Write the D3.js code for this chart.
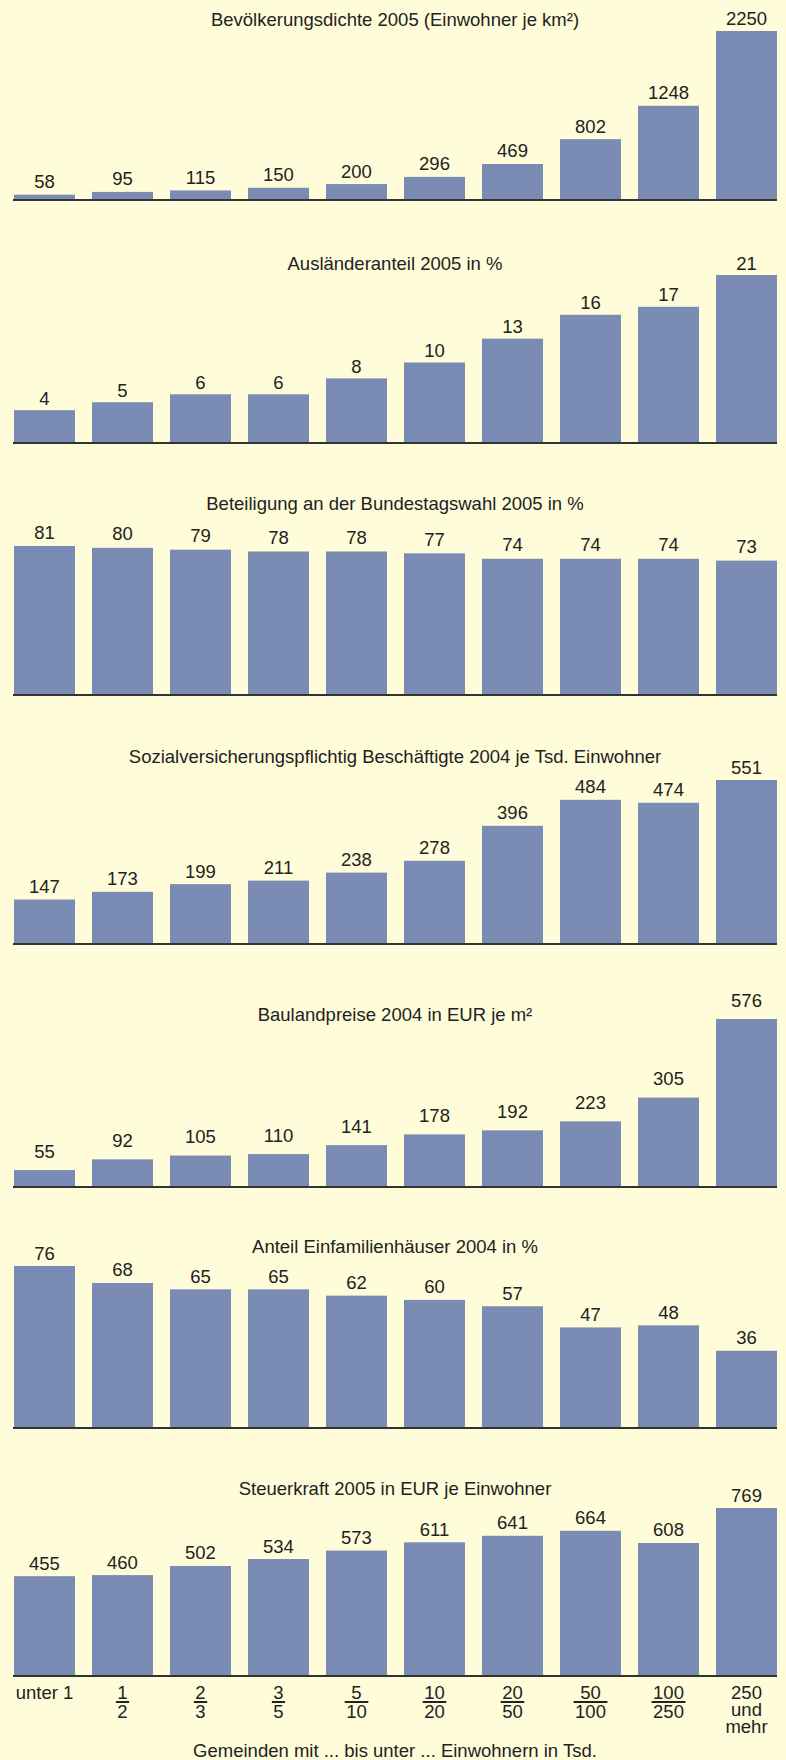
<!DOCTYPE html>
<html>
<head>
<meta charset="utf-8">
<script src="https://cdn.jsdelivr.net/npm/d3@7"></script>
<style>
  html, body { margin: 0; padding: 0; background: #fffcd9; }
  svg { display: block; font-family: "Liberation Sans", Arial, sans-serif; }
</style>
</head>
<body>
<div id="chart"></div>
<script>
const width = 786;
const height = 1760;

// Gemeindegrößenklassen (in Tsd. Einwohner)
const lowerBounds = [null, 1, 2, 3, 5, 10, 20, 50, 100, 250];
const upperBounds = [1, 2, 3, 5, 10, 20, 50, 100, 250, null];

const titles = [
  "Bevölkerungsdichte 2005 (Einwohner je km²)",
  "Ausländeranteil 2005 in %",
  "Beteiligung an der Bundestagswahl 2005 in %",
  "Sozialversicherungspflichtig Beschäftigte 2004 je Tsd. Einwohner",
  "Baulandpreise 2004 in EUR je m²",
  "Anteil Einfamilienhäuser 2004 in %",
  "Steuerkraft 2005 in EUR je Einwohner",
];

const density = [58, 95, 115, 150, 200, 296, 469, 802, 1248, 2250];
const foreignShare = [4, 5, 6, 6, 8, 10, 13, 16, 17, 21];
const turnout = [81, 80, 79, 78, 78, 77, 74, 74, 74, 73];
const employees = [147, 173, 199, 211, 238, 278, 396, 484, 474, 551];
const landPrices = [55, 92, 105, 110, 141, 178, 192, 223, 305, 576];
const singleFamily = [76, 68, 65, 65, 62, 60, 57, 47, 48, 36];
const taxPower = [455, 460, 502, 534, 573, 611, 641, 664, 608, 769];

const xAxisTitle = "Gemeinden mit ... bis unter ... Einwohnern in Tsd.";

const series = [density, foreignShare, turnout, employees, landPrices, singleFamily, taxPower];

// layout of the panels (px)
const baselines = [199, 442, 694, 943, 1186, 1427, 1675];
const maxHeights = [168, 167, 148, 163, 167, 161, 167];
const titleYs = [19, 263, 503, 756, 1014, 1246, 1488];
const labelGaps = [13, 12, 14, 13, 19, 13, 13];

const barColor = "#7a8bb4";
const textColor = "#222";
const fontSize = 18.5;

const svg = d3
  .select("#chart")
  .append("svg")
  .attr("width", width)
  .attr("height", height)
  .attr("viewBox", `0 0 ${width} ${height}`);

const x = d3
  .scaleBand()
  .domain(d3.range(lowerBounds.length))
  .range([14, 777])
  .paddingInner(0.218)
  .paddingOuter(0);

const centerX = 395;

series.forEach((values, i) => {
  const base = baselines[i];
  const y = d3
    .scaleLinear()
    .domain([0, d3.max(values)])
    .range([base, base - maxHeights[i]]);

  const g = svg.append("g");

  g.append("text")
    .attr("x", centerX)
    .attr("y", titleYs[i] + 6.5)
    .attr("text-anchor", "middle")
    .attr("font-size", fontSize)
    .attr("fill", textColor)
    .text(titles[i]);

  g.selectAll("rect")
    .data(values)
    .join("rect")
    .attr("x", (d, j) => x(j))
    .attr("y", (d) => y(d))
    .attr("width", x.bandwidth())
    .attr("height", (d) => base - y(d))
    .attr("fill", barColor);

  g.selectAll(".value")
    .data(values)
    .join("text")
    .attr("class", "value")
    .attr("x", (d, j) => x(j) + x.bandwidth() / 2)
    .attr("y", (d) => y(d) - labelGaps[i] + 6.5)
    .attr("text-anchor", "middle")
    .attr("font-size", fontSize)
    .attr("fill", textColor)
    .text((d) => d);

  g.append("line")
    .attr("x1", 13)
    .attr("x2", 777)
    .attr("y1", base + 1)
    .attr("y2", base + 1)
    .attr("stroke", "#333")
    .attr("stroke-width", 2);
});

// category labels under the last panel
const labelTop = baselines[baselines.length - 1] + 24;

const cats = svg
  .append("g")
  .selectAll("g")
  .data(lowerBounds.map((lo, j) => ({ lo, hi: upperBounds[j], j })))
  .join("g")
  .attr("transform", (d) => `translate(${x(d.j) + x.bandwidth() / 2},${labelTop})`)
  .attr("font-size", fontSize)
  .attr("fill", textColor)
  .attr("text-anchor", "middle");

cats.each(function (d) {
  const c = d3.select(this);
  if (d.lo === null) {
    c.append("text").attr("y", 0).text(`unter ${d.hi}`);
  } else if (d.hi === null) {
    const t = c.append("text").attr("y", 0);
    [String(d.lo), "und", "mehr"].forEach((line, k) => {
      t.append("tspan").attr("x", 0).attr("y", k * 17).text(line);
    });
  } else {
    const num = c.append("text").attr("y", 0).text(d.lo);
    const den = c.append("text").attr("y", 19).text(d.hi);
    const w = Math.max(num.node().getComputedTextLength(), den.node().getComputedTextLength()) + 3;
    c.append("line")
      .attr("x1", -w / 2)
      .attr("x2", w / 2)
      .attr("y1", 3)
      .attr("y2", 3)
      .attr("stroke", textColor)
      .attr("stroke-width", 2);
  }
});

svg
  .append("text")
  .attr("x", centerX)
  .attr("y", 1757)
  .attr("text-anchor", "middle")
  .attr("font-size", fontSize)
  .attr("fill", textColor)
  .text(xAxisTitle);
</script>
</body>
</html>
